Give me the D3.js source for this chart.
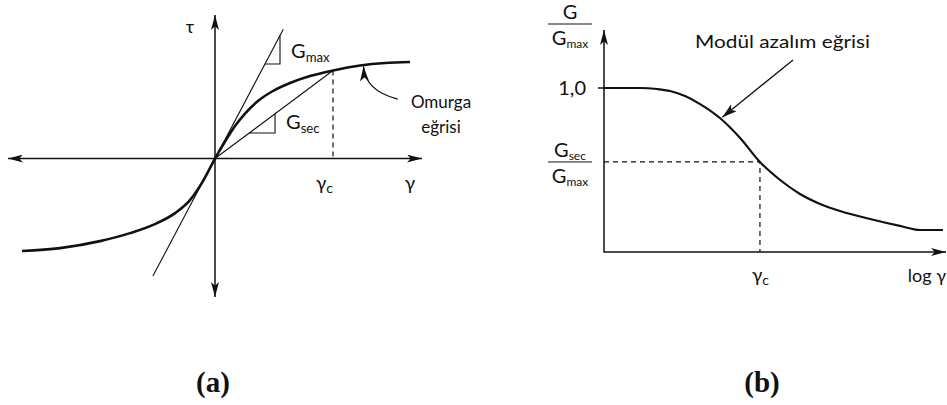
<!DOCTYPE html>
<html>
<head>
<meta charset="utf-8">
<script src="https://cdn.jsdelivr.net/npm/d3@7"></script>
<style>
  html, body { margin: 0; padding: 0; background: #fff; }
  svg { display: block; }
  text { font-family: Lato, "Open Sans", sans-serif; fill: #111; }
</style>
</head>
<body>
<svg id="chart" width="947" height="405"></svg>
<script>
// ---- (a) backbone curve: shear strain γ vs shear stress τ (schematic units)
const backboneGamma = [-1.865, -1.498, -1.111, -0.821, -0.58, -0.386, -0.242, -0.116, 0, 0.097, 0.193, 0.29, 0.415, 0.551, 0.725, 0.918, 1.14, 1.401, 1.643, 1.884];
const backboneTau   = [-0.902, -0.873, -0.805, -0.727, -0.639, -0.532, -0.405, -0.22, 0, 0.166, 0.317, 0.439, 0.561, 0.654, 0.737, 0.805, 0.859, 0.907, 0.932, 0.941];
const gammaC = 1.14;          // γc
const tauC = 0.859;           // τ at γc
const gMaxSlope = 1.91;       // initial tangent slope
const gMaxSpan = [-0.6, 0.66];// γ range of the tangent line

// ---- (b) modulus reduction curve: log γ vs G/Gmax
const logGamma = [0, 10.5, 15.5, 19.3, 23.7, 28.1, 33.9, 39.8, 45.6, 51.5, 57.3, 63.2, 69, 77.8, 86.5, 92.4, 99.1];
const gRatio   = [1.0, 1.0, 0.994, 0.982, 0.951, 0.902, 0.817, 0.695, 0.549, 0.439, 0.354, 0.293, 0.25, 0.201, 0.159, 0.134, 0.134];
const logGammaC = 45.6;
const gSecRatio = 0.549;
const ratioTicks = [1.0];
const tickLabel = d => d.toFixed(1).replace(".", ",");

const svg = d3.select("#chart");
const ink = "#111";

// arrowhead markers
const defs = svg.append("defs");
function marker(id, w, h) {
  defs.append("marker")
    .attr("id", id).attr("viewBox", `0 0 ${w} ${h}`)
    .attr("refX", w).attr("refY", h / 2)
    .attr("markerWidth", w).attr("markerHeight", h)
    .attr("markerUnits", "userSpaceOnUse")
    .attr("orient", "auto-start-reverse")
    .append("path").attr("d", `M0,0 L${w},${h / 2} L0,${h} L${w * 0.25},${h / 2} Z`).attr("fill", ink);
}
marker("axArrow", 15, 8);
marker("ptArrow", 15, 9);

// ================= Panel (a) =================
const xA = d3.scaleLinear().domain([-2, 2]).range([8, 422]);
const yA = d3.scaleLinear().domain([-1.35, 1.4]).range([297, 15]);
const gA = svg.append("g");

// axes with arrows at both ends
gA.append("line")
  .attr("x1", xA(-2)).attr("x2", xA(2)).attr("y1", yA(0)).attr("y2", yA(0))
  .attr("stroke", ink).attr("stroke-width", 1.5)
  .attr("marker-start", "url(#axArrow)").attr("marker-end", "url(#axArrow)");
gA.append("line")
  .attr("x1", xA(0)).attr("x2", xA(0)).attr("y1", yA(-1.35)).attr("y2", yA(1.4))
  .attr("stroke", ink).attr("stroke-width", 1.5)
  .attr("marker-start", "url(#axArrow)").attr("marker-end", "url(#axArrow)");

// Gmax tangent line
gA.append("line")
  .attr("x1", xA(gMaxSpan[0])).attr("y1", yA(gMaxSpan[0] * gMaxSlope))
  .attr("x2", xA(gMaxSpan[1])).attr("y2", yA(gMaxSpan[1] * gMaxSlope))
  .attr("stroke", ink).attr("stroke-width", 1.1);

// Gsec secant line
gA.append("line")
  .attr("x1", xA(0)).attr("y1", yA(0)).attr("x2", xA(gammaC)).attr("y2", yA(tauC))
  .attr("stroke", ink).attr("stroke-width", 1.1);

// slope triangles
function slopeTriangle(g, slope, gx, ty) {
  // vertical leg at γ = gx down to τ = ty, horizontal leg back to the line
  const pts = [[ty / slope, ty], [gx, ty], [gx, gx * slope]];
  g.append("path")
    .attr("d", d3.line().x(d => xA(d[0])).y(d => yA(d[1]))(pts))
    .attr("fill", "none").attr("stroke", ink).attr("stroke-width", 1.1);
}
slopeTriangle(gA, gMaxSlope, 0.628, 0.922);
slopeTriangle(gA, tauC / gammaC, 0.58, 0.249);

// dashed γc drop line
gA.append("line")
  .attr("x1", xA(gammaC)).attr("x2", xA(gammaC)).attr("y1", yA(tauC)).attr("y2", yA(0))
  .attr("stroke", ink).attr("stroke-width", 1.2).attr("stroke-dasharray", "5,4");

// backbone curve
const backbone = backboneGamma.map((g, i) => [g, backboneTau[i]]);
gA.append("path")
  .attr("d", d3.line().x(d => xA(d[0])).y(d => yA(d[1])).curve(d3.curveMonotoneX)(backbone))
  .attr("fill", "none").attr("stroke", ink).attr("stroke-width", 2.6);

// curved pointer to the backbone
gA.append("path")
  .attr("d", `M${xA(1.765)},${yA(0.58)} Q${xA(1.45)},${yA(0.66)} ${xA(1.435)},${yA(0.9)}`)
  .attr("fill", "none").attr("stroke", ink).attr("stroke-width", 1.2)
  .attr("marker-end", "url(#ptArrow)");

// labels
function gLabel(g, x, y, sub, size) {
  const t = g.append("text").attr("x", x).attr("y", y).attr("font-size", size);
  t.append("tspan").text("G");
  t.append("tspan").attr("font-size", size * 0.66).attr("dy", size * 0.22).text(sub);
  return t;
}
gA.append("text").attr("x", 190).attr("y", 33).attr("font-size", 18).attr("text-anchor", "middle").text("τ");
gLabel(gA, 291, 58, "max", 20);
gLabel(gA, 286, 129, "sec", 20);
const gc = gA.append("text").attr("x", 316).attr("y", 190).attr("font-size", 19);
gc.append("tspan").text("γ");
gc.append("tspan").attr("font-size", 14).attr("dy", 3).text("c");
gA.append("text").attr("x", 410).attr("y", 190).attr("font-size", 19).attr("text-anchor", "middle").text("γ");
gA.append("text").attr("x", 441).attr("y", 108).attr("font-size", 17).attr("text-anchor", "middle").text("Omurga");
gA.append("text").attr("x", 441).attr("y", 133).attr("font-size", 17).attr("text-anchor", "middle").text("eğrisi");

// ================= Panel (b) =================
const xB = d3.scaleLinear().domain([0, 100]).range([604, 946]);
const yB = d3.scaleLinear().domain([0, 1]).range([252, 88]);
const gB = svg.append("g");

gB.append("path")
  .attr("d", `M${xB(0)},${yB(1.354)} L${xB(0)},${yB(0)} L${xB(100)},${yB(0)}`)
  .attr("fill", "none").attr("stroke", ink).attr("stroke-width", 1.5)
  .attr("marker-start", "url(#axArrow)").attr("marker-end", "url(#axArrow)");

// y tick at 1,0
gB.selectAll(".tick").data(ratioTicks).join("line")
  .attr("x1", xB(0) - 6).attr("x2", xB(0)).attr("y1", d => yB(d)).attr("y2", d => yB(d))
  .attr("stroke", ink).attr("stroke-width", 1.5);
gB.selectAll(".tickLabel").data(ratioTicks).join("text")
  .attr("x", 586).attr("y", d => yB(d) + 7).attr("font-size", 20).attr("text-anchor", "end")
  .text(tickLabel);

// dashed guides at γc
gB.append("path")
  .attr("d", `M${xB(0)},${yB(gSecRatio)} L${xB(logGammaC)},${yB(gSecRatio)} L${xB(logGammaC)},${yB(0)}`)
  .attr("fill", "none").attr("stroke", ink).attr("stroke-width", 1.2).attr("stroke-dasharray", "5,4");

// reduction curve
const reduction = logGamma.map((x, i) => [x, gRatio[i]]);
gB.append("path")
  .attr("d", d3.line().x(d => xB(d[0])).y(d => yB(d[1])).curve(d3.curveMonotoneX)(reduction))
  .attr("fill", "none").attr("stroke", ink).attr("stroke-width", 2.2);

// pointer to the curve
gB.append("line")
  .attr("x1", 793).attr("y1", 60).attr("x2", xB(34.6)).attr("y2", yB(0.81) - 2)
  .attr("stroke", ink).attr("stroke-width", 1.3)
  .attr("marker-end", "url(#ptArrow)");
gB.append("text").attr("x", 695).attr("y", 48).attr("font-size", 18)
  .attr("textLength", 175).attr("lengthAdjust", "spacingAndGlyphs")
  .text("Modül azalım eğrisi");

// fraction labels on the y axis
function fraction(g, cx, lineY, topSub) {
  const top = g.append("text").attr("x", cx).attr("y", lineY - 5).attr("font-size", 20).attr("text-anchor", "middle");
  top.append("tspan").text("G");
  if (topSub) top.append("tspan").attr("font-size", 12).attr("dy", 3).text(topSub);
  g.append("line").attr("x1", cx - 22).attr("x2", cx + 22).attr("y1", lineY).attr("y2", lineY)
    .attr("stroke", ink).attr("stroke-width", 1);
  const bot = g.append("text").attr("x", cx).attr("y", lineY + 21).attr("font-size", 20).attr("text-anchor", "middle");
  bot.append("tspan").text("G");
  bot.append("tspan").attr("font-size", 12).attr("dy", 3).text("max");
}
fraction(gB, 570, 24, null);
fraction(gB, 570, yB(gSecRatio), "sec");

const gcB = gB.append("text").attr("x", 752).attr("y", 282).attr("font-size", 19);
gcB.append("tspan").text("γ");
gcB.append("tspan").attr("font-size", 14).attr("dy", 3).text("c");
gB.append("text").attr("x", 946).attr("y", 282).attr("font-size", 18).attr("text-anchor", "end").text("log γ");

// ================= panel captions =================
svg.selectAll(".caption").data([["(a)", 213], ["(b)", 762]]).join("text")
  .attr("x", d => d[1]).attr("y", 392)
  .attr("text-anchor", "middle")
  .style("font-family", "'Liberation Serif', 'Times New Roman', serif")
  .style("font-weight", "bold").style("font-size", "29px")
  .text(d => d[0]);
</script>
</body>
</html>
